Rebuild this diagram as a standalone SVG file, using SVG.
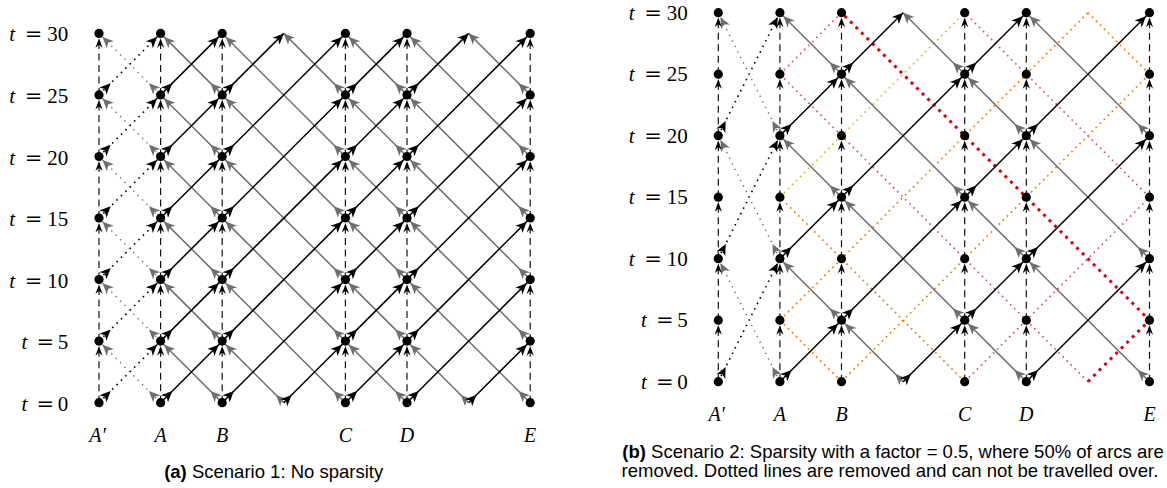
<svg xmlns="http://www.w3.org/2000/svg" width="1167" height="488" viewBox="0 0 1167 488">
<style>
.bk{stroke:#000;stroke-width:1.5;fill:none}
.gr{stroke:#6e6e6e;stroke-width:1.5;fill:none}
.bd{stroke:#000;stroke-width:1.6;stroke-dasharray:1.6 4.6;fill:none}
.gd{stroke:#6e6e6e;stroke-width:1.4;stroke-dasharray:1.4 4.8;fill:none}
.ds{stroke:#111;stroke-width:1.2;stroke-dasharray:7 4.5;fill:none}
.pk{stroke:#d4557a;stroke-width:1.7;stroke-dasharray:1.7 4;fill:none}
.or{stroke:#e67e17;stroke-width:1.7;stroke-dasharray:1.7 4;fill:none}
.ye{stroke:#dcbc2a;stroke-width:1.7;stroke-dasharray:1.7 4;fill:none}
.rd{stroke:#d60012;stroke-width:3;stroke-dasharray:3 4.8;fill:none}
.nd{fill:#000}
.lab{font-family:"Liberation Serif",serif;font-size:21px;fill:#000}
.col{font-family:"Liberation Serif",serif;font-size:20px;font-style:italic;fill:#000}
.it{font-style:italic}
.eq{font-family:"DejaVu Serif",serif;font-size:21px}
.cap{font-family:"Liberation Sans",Arial,sans-serif;font-size:18.5px;fill:#000}
</style>
<defs>
<marker id="hB" markerUnits="userSpaceOnUse" orient="auto" markerWidth="1" markerHeight="1" overflow="visible" style="overflow:visible"><path d="M-5,0 L-16,-5 L-13,0 L-16,5Z" fill="#000"/></marker>
<marker id="hB0" markerUnits="userSpaceOnUse" orient="auto" markerWidth="1" markerHeight="1" overflow="visible" style="overflow:visible"><path d="M0,0 L-11,-5 L-8,0 L-11,5Z" fill="#000"/></marker>
<marker id="tB" markerUnits="userSpaceOnUse" orient="auto" markerWidth="1" markerHeight="1" overflow="visible" style="overflow:visible"><path d="M16.5,0 L5.5,-5 L8.5,0 L5.5,5Z" fill="#000"/></marker>
<marker id="tB0" markerUnits="userSpaceOnUse" orient="auto" markerWidth="1" markerHeight="1" overflow="visible" style="overflow:visible"><path d="M11,0 L0,-5 L3,0 L0,5Z" fill="#000"/></marker>
<marker id="hG" markerUnits="userSpaceOnUse" orient="auto" markerWidth="1" markerHeight="1" overflow="visible" style="overflow:visible"><path d="M-5,0 L-16,-5 L-13,0 L-16,5Z" fill="#6e6e6e"/></marker>
<marker id="hG0" markerUnits="userSpaceOnUse" orient="auto" markerWidth="1" markerHeight="1" overflow="visible" style="overflow:visible"><path d="M0,0 L-11,-5 L-8,0 L-11,5Z" fill="#6e6e6e"/></marker>
<marker id="tG" markerUnits="userSpaceOnUse" orient="auto" markerWidth="1" markerHeight="1" overflow="visible" style="overflow:visible"><path d="M16.5,0 L5.5,-5 L8.5,0 L5.5,5Z" fill="#6e6e6e"/></marker>
<marker id="tG0" markerUnits="userSpaceOnUse" orient="auto" markerWidth="1" markerHeight="1" overflow="visible" style="overflow:visible"><path d="M11,0 L0,-5 L3,0 L0,5Z" fill="#6e6e6e"/></marker>
<marker id="hV" markerUnits="userSpaceOnUse" orient="auto" markerWidth="1" markerHeight="1" overflow="visible" style="overflow:visible"><path d="M-4.8,0 L-14.5,-3.6 L-11.2,0 L-14.5,3.6Z" fill="#000"/></marker>
<line id="rP1" class="bk" x1="0" y1="0" x2="61.6" y2="-61.5" marker-start="url(#tB)" marker-end="url(#hB)"/>
<line id="rP2" class="bk" x1="0" y1="0" x2="123.2" y2="-123" marker-start="url(#tB)" marker-end="url(#hB)"/>
<line id="rP2s" class="bk" x1="0" y1="0" x2="61.6" y2="-61.5" marker-start="url(#tB0)" marker-end="url(#hB)"/>
<line id="rP2e" class="bk" x1="0" y1="0" x2="61.6" y2="-61.5" marker-start="url(#tB)" marker-end="url(#hB0)"/>
<line id="lP1" class="gr" x1="0" y1="0" x2="-61.6" y2="-61.5" marker-start="url(#tG)" marker-end="url(#hG)"/>
<line id="lP2" class="gr" x1="0" y1="0" x2="-123.2" y2="-123" marker-start="url(#tG)" marker-end="url(#hG)"/>
<line id="lP2s" class="gr" x1="0" y1="0" x2="-61.6" y2="-61.5" marker-start="url(#tG0)" marker-end="url(#hG)"/>
<line id="lP2e" class="gr" x1="0" y1="0" x2="-61.6" y2="-61.5" marker-start="url(#tG)" marker-end="url(#hG0)"/>
<line id="rD1" class="bd" x1="0" y1="0" x2="61.6" y2="-61.5" marker-start="url(#tB)" marker-end="url(#hB)"/>
<line id="lD1" class="gd" x1="0" y1="0" x2="-61.6" y2="-61.5" marker-start="url(#tG)" marker-end="url(#hG)"/>
<line id="rD2" class="bd" x1="0" y1="0" x2="61.6" y2="-123" marker-start="url(#tB)" marker-end="url(#hB)"/>
<line id="lD2" class="gd" x1="0" y1="0" x2="-61.6" y2="-123" marker-start="url(#tG)" marker-end="url(#hG)"/>
<line id="vw" class="ds" x1="0" y1="0" x2="0" y2="-61.5" marker-end="url(#hV)"/>
</defs>

<!-- ===== Panel (a) connectors ===== -->
<g id="connectors-a">
<use href="#vw" x="99" y="402.7"/><use href="#vw" x="99" y="341.1"/><use href="#vw" x="99" y="279.6"/><use href="#vw" x="99" y="218"/><use href="#vw" x="99" y="156.5"/><use href="#vw" x="99" y="94.9"/>
<use href="#vw" x="160.6" y="402.7"/><use href="#vw" x="160.6" y="341.1"/><use href="#vw" x="160.6" y="279.6"/><use href="#vw" x="160.6" y="218"/><use href="#vw" x="160.6" y="156.5"/><use href="#vw" x="160.6" y="94.9"/>
<use href="#vw" x="222.2" y="402.7"/><use href="#vw" x="222.2" y="341.1"/><use href="#vw" x="222.2" y="279.6"/><use href="#vw" x="222.2" y="218"/><use href="#vw" x="222.2" y="156.5"/><use href="#vw" x="222.2" y="94.9"/>
<use href="#vw" x="345.4" y="402.7"/><use href="#vw" x="345.4" y="341.1"/><use href="#vw" x="345.4" y="279.6"/><use href="#vw" x="345.4" y="218"/><use href="#vw" x="345.4" y="156.5"/><use href="#vw" x="345.4" y="94.9"/>
<use href="#vw" x="407" y="402.7"/><use href="#vw" x="407" y="341.1"/><use href="#vw" x="407" y="279.6"/><use href="#vw" x="407" y="218"/><use href="#vw" x="407" y="156.5"/><use href="#vw" x="407" y="94.9"/>
<use href="#vw" x="530.2" y="402.7"/><use href="#vw" x="530.2" y="341.1"/><use href="#vw" x="530.2" y="279.6"/><use href="#vw" x="530.2" y="218"/><use href="#vw" x="530.2" y="156.5"/><use href="#vw" x="530.2" y="94.9"/>

<use href="#rD1" x="99" y="402.7"/><use href="#rD1" x="99" y="341.1"/><use href="#rD1" x="99" y="279.6"/><use href="#rD1" x="99" y="218"/><use href="#rD1" x="99" y="156.5"/><use href="#rD1" x="99" y="94.9"/>
<use href="#lD1" x="160.6" y="402.7"/><use href="#lD1" x="160.6" y="341.1"/><use href="#lD1" x="160.6" y="279.6"/><use href="#lD1" x="160.6" y="218"/><use href="#lD1" x="160.6" y="156.5"/><use href="#lD1" x="160.6" y="94.9"/>

<use href="#lP1" x="222.2" y="402.7"/><use href="#lP1" x="222.2" y="341.1"/><use href="#lP1" x="222.2" y="279.6"/><use href="#lP1" x="222.2" y="218"/><use href="#lP1" x="222.2" y="156.5"/><use href="#lP1" x="222.2" y="94.9"/>
<use href="#lP1" x="407" y="402.7"/><use href="#lP1" x="407" y="341.1"/><use href="#lP1" x="407" y="279.6"/><use href="#lP1" x="407" y="218"/><use href="#lP1" x="407" y="156.5"/><use href="#lP1" x="407" y="94.9"/>
<use href="#lP2s" x="283.8" y="402.7"/><use href="#lP2s" x="468.6" y="402.7"/>
<use href="#lP2" x="345.4" y="402.7"/><use href="#lP2" x="345.4" y="341.1"/><use href="#lP2" x="345.4" y="279.6"/><use href="#lP2" x="345.4" y="218"/><use href="#lP2" x="345.4" y="156.5"/>
<use href="#lP2" x="530.2" y="402.7"/><use href="#lP2" x="530.2" y="341.1"/><use href="#lP2" x="530.2" y="279.6"/><use href="#lP2" x="530.2" y="218"/><use href="#lP2" x="530.2" y="156.5"/>
<use href="#lP2e" x="345.4" y="94.9"/><use href="#lP2e" x="530.2" y="94.9"/>

<use href="#rP1" x="160.6" y="402.7"/><use href="#rP1" x="160.6" y="341.1"/><use href="#rP1" x="160.6" y="279.6"/><use href="#rP1" x="160.6" y="218"/><use href="#rP1" x="160.6" y="156.5"/><use href="#rP1" x="160.6" y="94.9"/>
<use href="#rP1" x="345.4" y="402.7"/><use href="#rP1" x="345.4" y="341.1"/><use href="#rP1" x="345.4" y="279.6"/><use href="#rP1" x="345.4" y="218"/><use href="#rP1" x="345.4" y="156.5"/><use href="#rP1" x="345.4" y="94.9"/>
<use href="#rP2s" x="283.8" y="402.7"/><use href="#rP2s" x="468.6" y="402.7"/>
<use href="#rP2" x="222.2" y="402.7"/><use href="#rP2" x="222.2" y="341.1"/><use href="#rP2" x="222.2" y="279.6"/><use href="#rP2" x="222.2" y="218"/><use href="#rP2" x="222.2" y="156.5"/>
<use href="#rP2" x="407" y="402.7"/><use href="#rP2" x="407" y="341.1"/><use href="#rP2" x="407" y="279.6"/><use href="#rP2" x="407" y="218"/><use href="#rP2" x="407" y="156.5"/>
<use href="#rP2e" x="222.2" y="94.9"/><use href="#rP2e" x="407" y="94.9"/>
</g>

<!-- ===== Panel (b) connectors ===== -->
<g id="connectors-b">
<path class="pk" d="M1087.9,381.7 L779.9,74.2 M964.7,381.7 L1149.5,197.2 M779.9,74.2 L841.5,12.7 M1149.5,197.2 L964.7,12.7"/>
<path class="or" d="M779.9,320.2 L1087.9,12.7 M841.5,381.7 L1149.5,74.2 M964.7,381.7 L779.9,197.2 M841.5,381.7 L779.9,320.2 M1149.5,74.2 L1087.9,12.7"/>
<path class="ye" d="M779.9,197.2 L964.7,12.7"/>
<path class="rd" d="M1087.9,381.7 L1149.5,320.2 L841.5,12.7"/>

<use href="#vw" x="718.3" y="381.7"/><use href="#vw" x="718.3" y="320.2"/><use href="#vw" x="718.3" y="258.7"/><use href="#vw" x="718.3" y="197.2"/><use href="#vw" x="718.3" y="135.7"/><use href="#vw" x="718.3" y="74.2"/>
<use href="#vw" x="779.9" y="381.7"/><use href="#vw" x="779.9" y="320.2"/><use href="#vw" x="779.9" y="258.7"/><use href="#vw" x="779.9" y="197.2"/><use href="#vw" x="779.9" y="135.7"/><use href="#vw" x="779.9" y="74.2"/>
<use href="#vw" x="841.5" y="381.7"/><use href="#vw" x="841.5" y="320.2"/><use href="#vw" x="841.5" y="258.7"/><use href="#vw" x="841.5" y="197.2"/><use href="#vw" x="841.5" y="135.7"/><use href="#vw" x="841.5" y="74.2"/>
<use href="#vw" x="964.7" y="381.7"/><use href="#vw" x="964.7" y="320.2"/><use href="#vw" x="964.7" y="258.7"/><use href="#vw" x="964.7" y="197.2"/><use href="#vw" x="964.7" y="135.7"/><use href="#vw" x="964.7" y="74.2"/>
<use href="#vw" x="1026.3" y="381.7"/><use href="#vw" x="1026.3" y="320.2"/><use href="#vw" x="1026.3" y="258.7"/><use href="#vw" x="1026.3" y="197.2"/><use href="#vw" x="1026.3" y="135.7"/><use href="#vw" x="1026.3" y="74.2"/>
<use href="#vw" x="1149.5" y="381.7"/><use href="#vw" x="1149.5" y="320.2"/><use href="#vw" x="1149.5" y="258.7"/><use href="#vw" x="1149.5" y="197.2"/><use href="#vw" x="1149.5" y="135.7"/><use href="#vw" x="1149.5" y="74.2"/>

<use href="#rD2" x="718.3" y="381.7"/><use href="#rD2" x="718.3" y="258.7"/><use href="#rD2" x="718.3" y="135.7"/>
<use href="#lD2" x="779.9" y="381.7"/><use href="#lD2" x="779.9" y="258.7"/><use href="#lD2" x="779.9" y="135.7"/>

<use href="#lP1" x="841.5" y="320.2"/><use href="#lP1" x="841.5" y="197.2"/><use href="#lP1" x="841.5" y="74.2"/>
<use href="#lP1" x="1026.3" y="381.7"/><use href="#lP1" x="1026.3" y="258.7"/><use href="#lP1" x="1026.3" y="135.7"/>
<use href="#lP2s" x="903.1" y="381.7"/>
<use href="#lP2" x="964.7" y="320.2"/><use href="#lP2" x="964.7" y="197.2"/>
<use href="#lP2e" x="964.7" y="74.2"/>
<use href="#lP2" x="1149.5" y="381.7"/><use href="#lP2" x="1149.5" y="258.7"/><use href="#lP2" x="1149.5" y="135.7"/>

<use href="#rP1" x="779.9" y="381.7"/><use href="#rP1" x="779.9" y="258.7"/><use href="#rP1" x="779.9" y="135.7"/>
<use href="#rP1" x="964.7" y="320.2"/><use href="#rP1" x="964.7" y="197.2"/><use href="#rP1" x="964.7" y="74.2"/>
<use href="#rP2s" x="903.1" y="381.7"/>
<use href="#rP2" x="841.5" y="320.2"/><use href="#rP2" x="841.5" y="197.2"/>
<use href="#rP2e" x="841.5" y="74.2"/>
<use href="#rP2" x="1026.3" y="381.7"/><use href="#rP2" x="1026.3" y="258.7"/><use href="#rP2" x="1026.3" y="135.7"/>
</g>

<!-- ===== Panel (a) nodes ===== -->
<g id="a-Ap-0"><circle class="nd" cx="99" cy="402.7" r="4.6"/></g>
<g id="a-Ap-5"><circle class="nd" cx="99" cy="341.1" r="4.6"/></g>
<g id="a-Ap-10"><circle class="nd" cx="99" cy="279.6" r="4.6"/></g>
<g id="a-Ap-15"><circle class="nd" cx="99" cy="218" r="4.6"/></g>
<g id="a-Ap-20"><circle class="nd" cx="99" cy="156.5" r="4.6"/></g>
<g id="a-Ap-25"><circle class="nd" cx="99" cy="94.9" r="4.6"/></g>
<g id="a-Ap-30"><circle class="nd" cx="99" cy="33.4" r="4.6"/></g>
<g id="a-A-0"><circle class="nd" cx="160.6" cy="402.7" r="4.6"/></g>
<g id="a-A-5"><circle class="nd" cx="160.6" cy="341.1" r="4.6"/></g>
<g id="a-A-10"><circle class="nd" cx="160.6" cy="279.6" r="4.6"/></g>
<g id="a-A-15"><circle class="nd" cx="160.6" cy="218" r="4.6"/></g>
<g id="a-A-20"><circle class="nd" cx="160.6" cy="156.5" r="4.6"/></g>
<g id="a-A-25"><circle class="nd" cx="160.6" cy="94.9" r="4.6"/></g>
<g id="a-A-30"><circle class="nd" cx="160.6" cy="33.4" r="4.6"/></g>
<g id="a-B-0"><circle class="nd" cx="222.2" cy="402.7" r="4.6"/></g>
<g id="a-B-5"><circle class="nd" cx="222.2" cy="341.1" r="4.6"/></g>
<g id="a-B-10"><circle class="nd" cx="222.2" cy="279.6" r="4.6"/></g>
<g id="a-B-15"><circle class="nd" cx="222.2" cy="218" r="4.6"/></g>
<g id="a-B-20"><circle class="nd" cx="222.2" cy="156.5" r="4.6"/></g>
<g id="a-B-25"><circle class="nd" cx="222.2" cy="94.9" r="4.6"/></g>
<g id="a-B-30"><circle class="nd" cx="222.2" cy="33.4" r="4.6"/></g>
<g id="a-C-0"><circle class="nd" cx="345.4" cy="402.7" r="4.6"/></g>
<g id="a-C-5"><circle class="nd" cx="345.4" cy="341.1" r="4.6"/></g>
<g id="a-C-10"><circle class="nd" cx="345.4" cy="279.6" r="4.6"/></g>
<g id="a-C-15"><circle class="nd" cx="345.4" cy="218" r="4.6"/></g>
<g id="a-C-20"><circle class="nd" cx="345.4" cy="156.5" r="4.6"/></g>
<g id="a-C-25"><circle class="nd" cx="345.4" cy="94.9" r="4.6"/></g>
<g id="a-C-30"><circle class="nd" cx="345.4" cy="33.4" r="4.6"/></g>
<g id="a-D-0"><circle class="nd" cx="407" cy="402.7" r="4.6"/></g>
<g id="a-D-5"><circle class="nd" cx="407" cy="341.1" r="4.6"/></g>
<g id="a-D-10"><circle class="nd" cx="407" cy="279.6" r="4.6"/></g>
<g id="a-D-15"><circle class="nd" cx="407" cy="218" r="4.6"/></g>
<g id="a-D-20"><circle class="nd" cx="407" cy="156.5" r="4.6"/></g>
<g id="a-D-25"><circle class="nd" cx="407" cy="94.9" r="4.6"/></g>
<g id="a-D-30"><circle class="nd" cx="407" cy="33.4" r="4.6"/></g>
<g id="a-E-0"><circle class="nd" cx="530.2" cy="402.7" r="4.6"/></g>
<g id="a-E-5"><circle class="nd" cx="530.2" cy="341.1" r="4.6"/></g>
<g id="a-E-10"><circle class="nd" cx="530.2" cy="279.6" r="4.6"/></g>
<g id="a-E-15"><circle class="nd" cx="530.2" cy="218" r="4.6"/></g>
<g id="a-E-20"><circle class="nd" cx="530.2" cy="156.5" r="4.6"/></g>
<g id="a-E-25"><circle class="nd" cx="530.2" cy="94.9" r="4.6"/></g>
<g id="a-E-30"><circle class="nd" cx="530.2" cy="33.4" r="4.6"/></g>

<!-- ===== Panel (b) nodes ===== -->
<g id="b-Ap-0"><circle class="nd" cx="718.3" cy="381.7" r="4.6"/></g>
<g id="b-Ap-5"><circle class="nd" cx="718.3" cy="320.2" r="4.6"/></g>
<g id="b-Ap-10"><circle class="nd" cx="718.3" cy="258.7" r="4.6"/></g>
<g id="b-Ap-15"><circle class="nd" cx="718.3" cy="197.2" r="4.6"/></g>
<g id="b-Ap-20"><circle class="nd" cx="718.3" cy="135.7" r="4.6"/></g>
<g id="b-Ap-25"><circle class="nd" cx="718.3" cy="74.2" r="4.6"/></g>
<g id="b-Ap-30"><circle class="nd" cx="718.3" cy="12.7" r="4.6"/></g>
<g id="b-A-0"><circle class="nd" cx="779.9" cy="381.7" r="4.6"/></g>
<g id="b-A-5"><circle class="nd" cx="779.9" cy="320.2" r="4.6"/></g>
<g id="b-A-10"><circle class="nd" cx="779.9" cy="258.7" r="4.6"/></g>
<g id="b-A-15"><circle class="nd" cx="779.9" cy="197.2" r="4.6"/></g>
<g id="b-A-20"><circle class="nd" cx="779.9" cy="135.7" r="4.6"/></g>
<g id="b-A-25"><circle class="nd" cx="779.9" cy="74.2" r="4.6"/></g>
<g id="b-A-30"><circle class="nd" cx="779.9" cy="12.7" r="4.6"/></g>
<g id="b-B-0"><circle class="nd" cx="841.5" cy="381.7" r="4.6"/></g>
<g id="b-B-5"><circle class="nd" cx="841.5" cy="320.2" r="4.6"/></g>
<g id="b-B-10"><circle class="nd" cx="841.5" cy="258.7" r="4.6"/></g>
<g id="b-B-15"><circle class="nd" cx="841.5" cy="197.2" r="4.6"/></g>
<g id="b-B-20"><circle class="nd" cx="841.5" cy="135.7" r="4.6"/></g>
<g id="b-B-25"><circle class="nd" cx="841.5" cy="74.2" r="4.6"/></g>
<g id="b-B-30"><circle class="nd" cx="841.5" cy="12.7" r="4.6"/></g>
<g id="b-C-0"><circle class="nd" cx="964.7" cy="381.7" r="4.6"/></g>
<g id="b-C-5"><circle class="nd" cx="964.7" cy="320.2" r="4.6"/></g>
<g id="b-C-10"><circle class="nd" cx="964.7" cy="258.7" r="4.6"/></g>
<g id="b-C-15"><circle class="nd" cx="964.7" cy="197.2" r="4.6"/></g>
<g id="b-C-20"><circle class="nd" cx="964.7" cy="135.7" r="4.6"/></g>
<g id="b-C-25"><circle class="nd" cx="964.7" cy="74.2" r="4.6"/></g>
<g id="b-C-30"><circle class="nd" cx="964.7" cy="12.7" r="4.6"/></g>
<g id="b-D-0"><circle class="nd" cx="1026.3" cy="381.7" r="4.6"/></g>
<g id="b-D-5"><circle class="nd" cx="1026.3" cy="320.2" r="4.6"/></g>
<g id="b-D-10"><circle class="nd" cx="1026.3" cy="258.7" r="4.6"/></g>
<g id="b-D-15"><circle class="nd" cx="1026.3" cy="197.2" r="4.6"/></g>
<g id="b-D-20"><circle class="nd" cx="1026.3" cy="135.7" r="4.6"/></g>
<g id="b-D-25"><circle class="nd" cx="1026.3" cy="74.2" r="4.6"/></g>
<g id="b-D-30"><circle class="nd" cx="1026.3" cy="12.7" r="4.6"/></g>
<g id="b-E-0"><circle class="nd" cx="1149.5" cy="381.7" r="4.6"/></g>
<g id="b-E-5"><circle class="nd" cx="1149.5" cy="320.2" r="4.6"/></g>
<g id="b-E-10"><circle class="nd" cx="1149.5" cy="258.7" r="4.6"/></g>
<g id="b-E-15"><circle class="nd" cx="1149.5" cy="197.2" r="4.6"/></g>
<g id="b-E-20"><circle class="nd" cx="1149.5" cy="135.7" r="4.6"/></g>
<g id="b-E-25"><circle class="nd" cx="1149.5" cy="74.2" r="4.6"/></g>
<g id="b-E-30"><circle class="nd" cx="1149.5" cy="12.7" r="4.6"/></g>

<!-- ===== Labels (a) ===== -->
<g id="labels-a">
<text class="lab" y="41.4"><tspan class="it" x="9.3">t</tspan><tspan class="eq" x="24.8">=</tspan><tspan x="47.3">30</tspan></text>
<text class="lab" y="102.9"><tspan class="it" x="9.3">t</tspan><tspan class="eq" x="24.8">=</tspan><tspan x="47.3">25</tspan></text>
<text class="lab" y="164.5"><tspan class="it" x="9.3">t</tspan><tspan class="eq" x="24.8">=</tspan><tspan x="47.3">20</tspan></text>
<text class="lab" y="226"><tspan class="it" x="9.3">t</tspan><tspan class="eq" x="24.8">=</tspan><tspan x="47.3">15</tspan></text>
<text class="lab" y="287.6"><tspan class="it" x="9.3">t</tspan><tspan class="eq" x="24.8">=</tspan><tspan x="47.3">10</tspan></text>
<text class="lab" y="349.1"><tspan class="it" x="21.5">t</tspan><tspan class="eq" x="36.4">=</tspan><tspan x="57.8">5</tspan></text>
<text class="lab" y="410.7"><tspan class="it" x="21.5">t</tspan><tspan class="eq" x="36.4">=</tspan><tspan x="57.8">0</tspan></text>
<text class="col" x="97.5" y="441.5" text-anchor="middle">A′</text>
<text class="col" x="160.6" y="441.5" text-anchor="middle">A</text>
<text class="col" x="222.2" y="441.5" text-anchor="middle">B</text>
<text class="col" x="345.4" y="441.5" text-anchor="middle">C</text>
<text class="col" x="407" y="441.5" text-anchor="middle">D</text>
<text class="col" x="530.2" y="441.5" text-anchor="middle">E</text>
<text class="cap" x="273.7" y="478" text-anchor="middle"><tspan font-weight="bold">(a)</tspan> Scenario 1: No sparsity</text>
</g>

<!-- ===== Labels (b) ===== -->
<g id="labels-b">
<text class="lab" y="19.7"><tspan class="it" x="628.8">t</tspan><tspan class="eq" x="644.3">=</tspan><tspan x="666.8">30</tspan></text>
<text class="lab" y="81.2"><tspan class="it" x="628.8">t</tspan><tspan class="eq" x="644.3">=</tspan><tspan x="666.8">25</tspan></text>
<text class="lab" y="142.7"><tspan class="it" x="628.8">t</tspan><tspan class="eq" x="644.3">=</tspan><tspan x="666.8">20</tspan></text>
<text class="lab" y="204.2"><tspan class="it" x="628.8">t</tspan><tspan class="eq" x="644.3">=</tspan><tspan x="666.8">15</tspan></text>
<text class="lab" y="265.7"><tspan class="it" x="628.8">t</tspan><tspan class="eq" x="644.3">=</tspan><tspan x="666.8">10</tspan></text>
<text class="lab" y="327.2"><tspan class="it" x="641">t</tspan><tspan class="eq" x="655.9">=</tspan><tspan x="677.3">5</tspan></text>
<text class="lab" y="388.7"><tspan class="it" x="641">t</tspan><tspan class="eq" x="655.9">=</tspan><tspan x="677.3">0</tspan></text>
<text class="col" x="716.7" y="420.5" text-anchor="middle">A′</text>
<text class="col" x="779.9" y="420.5" text-anchor="middle">A</text>
<text class="col" x="841.5" y="420.5" text-anchor="middle">B</text>
<text class="col" x="964.7" y="420.5" text-anchor="middle">C</text>
<text class="col" x="1026.3" y="420.5" text-anchor="middle">D</text>
<text class="col" x="1149.5" y="420.5" text-anchor="middle">E</text>
<text class="cap" x="893" y="458" text-anchor="middle"><tspan font-weight="bold">(b)</tspan> Scenario 2: Sparsity with a factor = 0.5, where 50% of arcs are</text>
<text class="cap" x="890" y="477" text-anchor="middle">removed. Dotted lines are removed and can not be travelled over.</text>
</g>
</svg>
